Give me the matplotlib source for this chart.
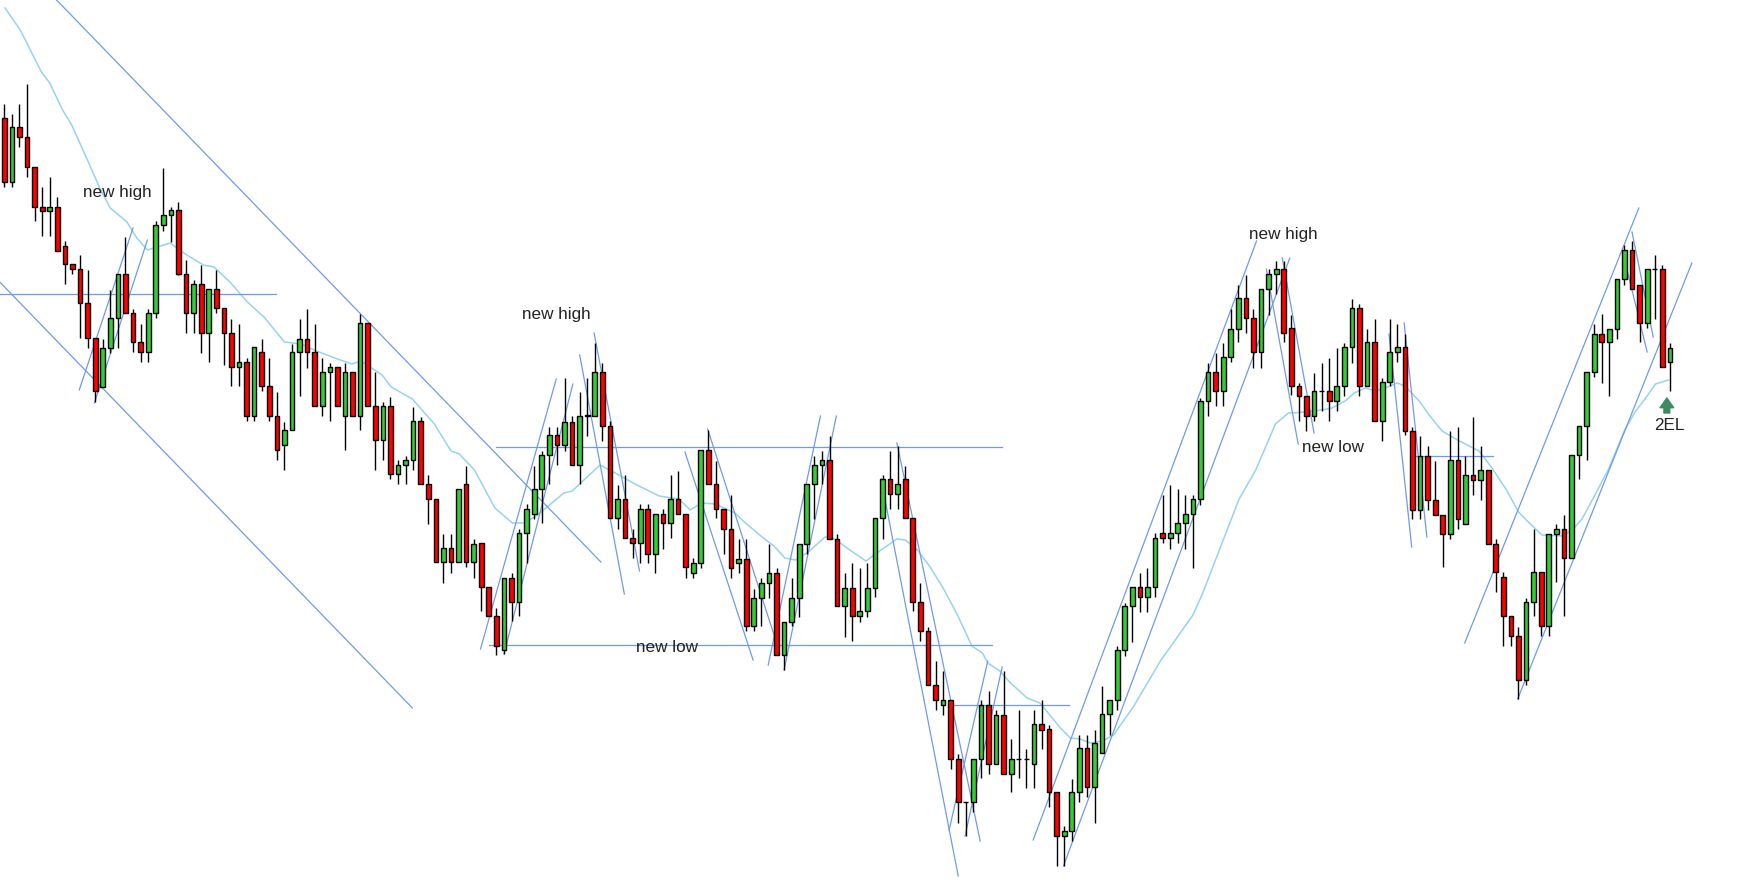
import numpy as np
import matplotlib.pyplot as plt

# OHLC, one row per bar (open, high, low, close)
ohlc = [
    (772, 786, 703, 708), (708, 776, 703, 763), (763, 786, 743, 753), (753, 806, 713, 723),
    (723, 723, 669, 683), (683, 703, 654, 679), (679, 713, 654, 683), (683, 693, 639, 639),
    (644, 649, 606, 626), (626, 626, 616, 621), (621, 635, 552, 587), (587, 620, 542, 552),
    (552, 552, 488, 499), (503, 551, 503, 542), (542, 600, 537, 572), (572, 616, 542, 616),
    (616, 653, 577, 577), (577, 581, 538, 548), (548, 566, 528, 538), (538, 581, 528, 577),
    (577, 669, 572, 665), (665, 722, 659, 675), (675, 683, 648, 680), (680, 688, 615, 616),
    (616, 630, 557, 577), (577, 610, 557, 606), (606, 625, 537, 557), (557, 601, 528, 601),
    (601, 620, 577, 582), (582, 582, 525, 557), (557, 571, 504, 523), (523, 566, 504, 528),
    (528, 532, 469, 474), (474, 543, 469, 543), (538, 551, 499, 504), (504, 532, 469, 474),
    (474, 498, 430, 440), (445, 468, 420, 460), (460, 546, 460, 538), (538, 571, 494, 551),
    (551, 581, 522, 538), (538, 566, 484, 484), (484, 532, 474, 518), (518, 527, 469, 523),
    (523, 523, 484, 484), (474, 527, 440, 518), (518, 518, 474, 474), (474, 576, 460, 567),
    (567, 567, 484, 484), (484, 518, 420, 450), (450, 488, 430, 484), (484, 493, 411, 416),
    (416, 430, 406, 425), (425, 434, 406, 430), (430, 483, 420, 469), (469, 473, 406, 406),
    (406, 415, 366, 391), (391, 391, 328, 328), (328, 356, 307, 342), (342, 356, 317, 328),
    (328, 401, 328, 401), (406, 424, 323, 328), (328, 351, 312, 346), (347, 347, 279, 303),
    (303, 303, 274, 274), (274, 282, 235, 244), (240, 312, 236, 312), (312, 317, 269, 288),
    (288, 361, 274, 357), (357, 386, 327, 381), (376, 424, 371, 401), (401, 439, 367, 435),
    (435, 463, 406, 455), (455, 463, 425, 445), (445, 512, 439, 468), (468, 474, 425, 425),
    (425, 498, 406, 474), (474, 512, 454, 475), (474, 547, 474, 518), (518, 527, 449, 464),
    (464, 469, 372, 372), (372, 405, 361, 391), (391, 415, 352, 352), (352, 361, 332, 347),
    (347, 386, 327, 381), (381, 386, 327, 336), (336, 376, 317, 376), (376, 381, 341, 367),
    (367, 415, 352, 391), (391, 419, 376, 376), (376, 376, 312, 323), (317, 332, 312, 327),
    (327, 440, 322, 440), (440, 460, 406, 406), (406, 429, 372, 381), (381, 381, 336, 361),
    (361, 395, 312, 322), (327, 351, 317, 331), (331, 351, 259, 264), (264, 301, 259, 292),
    (292, 312, 264, 307), (307, 346, 292, 317), (317, 322, 235, 235), (235, 268, 220, 268),
    (268, 312, 264, 292), (292, 346, 273, 346), (346, 406, 336, 406), (406, 434, 371, 425),
    (425, 439, 406, 430), (430, 454, 351, 351), (351, 356, 284, 284), (284, 317, 253, 302),
    (302, 327, 249, 274), (274, 322, 268, 279), (279, 327, 273, 302), (302, 372, 293, 372),
    (372, 415, 351, 411), (411, 439, 381, 396), (396, 444, 381, 406), (411, 424, 372, 372),
    (372, 372, 279, 288), (288, 307, 249, 259), (259, 263, 205, 205), (205, 229, 180, 190),
    (185, 219, 175, 190), (190, 190, 121, 131), (131, 136, 67, 88), (88, 88, 54, 88),
    (88, 131, 78, 131), (131, 190, 112, 185), (185, 199, 116, 126), (126, 180, 126, 175),
    (175, 219, 116, 116), (116, 151, 98, 131), (131, 180, 112, 131), (131, 141, 102, 131),
    (126, 180, 102, 166), (166, 190, 141, 160), (161, 165, 83, 98), (98, 98, 24, 54),
    (54, 64, 24, 59), (59, 111, 49, 98), (98, 155, 88, 142), (142, 155, 93, 103),
    (103, 160, 67, 147), (137, 204, 137, 176), (176, 190, 155, 190), (190, 244, 180, 240),
    (240, 287, 234, 284), (284, 303, 248, 303), (303, 317, 278, 293), (293, 322, 278, 303),
    (303, 357, 293, 352), (357, 395, 347, 352), (352, 405, 341, 357), (357, 401, 347, 367),
    (367, 395, 341, 376), (376, 395, 322, 391), (391, 492, 385, 489), (489, 527, 474, 518),
    (518, 537, 484, 499), (499, 547, 484, 533), (533, 581, 528, 561), (561, 605, 548, 592),
    (592, 615, 557, 572), (572, 581, 522, 538), (538, 601, 522, 601), (601, 621, 575, 616),
    (616, 629, 596, 621), (621, 629, 548, 557), (562, 575, 495, 504), (504, 507, 469, 494),
    (494, 494, 459, 474), (474, 517, 469, 499), (499, 527, 479, 499), (499, 532, 469, 489),
    (489, 542, 479, 504), (504, 547, 494, 543), (543, 591, 527, 582), (582, 586, 494, 504),
    (504, 561, 504, 548), (548, 571, 469, 469), (469, 512, 449, 508), (508, 571, 504, 538),
    (538, 566, 528, 543), (543, 556, 455, 459), (459, 463, 371, 380), (380, 454, 371, 434),
    (434, 444, 380, 390), (390, 429, 375, 375), (375, 375, 323, 356), (356, 459, 351, 430),
    (430, 463, 361, 371), (366, 434, 366, 415), (415, 473, 395, 410), (410, 444, 390, 420),
    (420, 420, 346, 346), (346, 351, 298, 318), (313, 318, 244, 274), (274, 274, 244, 254),
    (254, 263, 191, 210), (210, 292, 205, 288), (288, 361, 274, 318), (318, 318, 254, 264),
    (264, 356, 254, 356), (356, 366, 308, 361), (361, 375, 274, 332), (332, 435, 332, 435),
    (435, 464, 411, 464), (464, 518, 430, 518), (518, 566, 513, 556), (556, 576, 507, 548),
    (548, 561, 494, 561), (561, 611, 551, 611), (611, 645, 605, 640), (640, 649, 601, 601),
    (605, 605, 548, 567), (567, 621, 562, 621), (621, 635, 571, 621), (621, 625, 523, 523),
    (528, 547, 499, 542),
]

# moving average (bar index, value)
ma_x = [0.1, 2.1, 4.9, 6.0, 7.7, 8.9, 11.1, 12.6, 14.0, 16.2, 17.5, 18.9, 21.9, 24.1, 26.3,
        27.7, 29.8, 32.1, 34.3, 37.0, 39.2, 40.9, 44.0, 45.9, 47.1, 49.9, 51.1, 53.9, 56.8,
        59.0, 60.1, 62.1, 64.8, 67.1, 68.8, 70.6, 73.9, 75.0, 76.7, 78.7, 80.7, 83.3, 86.5,
        89.1, 90.6, 92.1, 93.9, 96.5, 97.9, 100.1, 101.8, 103.1, 104.5, 106.2, 108.4, 109.7,
        111.5, 113.8, 115.8, 117.9, 119.0, 120.6, 122.3, 124.0, 125.9, 127.8, 129.2, 129.9,
        131.5, 132.9, 135.1, 136.8, 138.1, 139.5, 140.8, 142.1, 143.4, 145.1, 146.5, 148.1,
        149.2, 152.7, 157.0, 158.3, 160.9, 163.1, 165.3, 167.9, 169.6, 170.1, 173.2, 175.4,
        177.1, 178.3, 179.8, 181.1, 182.4, 184.0, 185.0, 186.9, 188.2, 189.9, 192.2, 194.8,
        196.5, 198.5, 200.0, 201.3, 203.1, 205.8, 207.1, 208.4, 210.1, 211.9, 214.1, 215.4,
        216.7, 218.1, 219.8]
ma_y = [882, 860, 818, 807, 780, 765, 728, 702, 682, 668, 652, 640, 647, 635, 625,
        623, 608, 588, 573, 548, 546, 540, 531, 526, 529, 515, 503, 491, 466,
        439, 436, 420, 382, 367, 367, 376, 397, 399, 411, 425, 417, 406, 394,
        391, 380, 387, 386, 377, 367, 353, 343, 332, 330, 338, 353, 351,
        341, 329, 340, 351, 350, 340, 323, 302, 275, 244, 237, 227,
        219, 207, 192, 187, 175, 162, 152, 151, 147, 149, 155, 172,
        184, 229, 275, 297, 348, 391, 420, 466, 477, 477, 479, 482,
        489, 497, 502, 499, 502, 507, 504, 489, 475, 459, 449, 439,
        422, 399, 378, 368, 355, 354, 360, 371, 395, 421, 461, 478,
        491, 506, 510]

# hand-drawn trendlines: (x0, y0, x1, y1) in bar index / price
trendlines = [
    (6.9, 890, 78.8, 328), (-0.6, 608, 53.9, 182), (-0.6, 596, 35.9, 596),
    (9.9, 500, 17.0, 662), (11.9, 487, 18.9, 650),
    (62.9, 241, 72.9, 511), (66.0, 236, 75.1, 506),
    (64.9, 443, 131.8, 443), (64.0, 245, 130.5, 245),
    (76.0, 535, 81.9, 296), (77.9, 557, 83.9, 319),
    (89.9, 438, 98.9, 230), (92.9, 461, 102.1, 245),
    (100.9, 225, 107.8, 474), (103.0, 220, 109.9, 474),
    (117.9, 447, 128.9, 49), (115.8, 411, 126.0, 14),
    (124.8, 60, 129.9, 229), (126.9, 54, 131.8, 223),
    (124.8, 185, 140.6, 185),
    (135.9, 50, 165.4, 649), (139.9, 24, 169.8, 632),
    (166.7, 621, 170.9, 446), (168.8, 632, 173.0, 457),
    (182.9, 556, 185.9, 343), (184.9, 567, 187.9, 353),
    (185.9, 434, 196.6, 434),
    (192.9, 247, 215.9, 682), (199.9, 191, 222.9, 627),
    (215.0, 658, 217.8, 553), (213.7, 640, 217.0, 538),
]

labels = ["new high", "new high", "new low", "new high", "new low"]
label_x = [14.95, 72.96, 87.54, 168.92, 175.52]
label_y = [698, 576, 242, 655, 442]

signal_text = "2EL"
signal_x = 219.9
signal_y = 465

o = np.array([r[0] for r in ohlc], dtype=float)
h = np.array([r[1] for r in ohlc], dtype=float)
l = np.array([r[2] for r in ohlc], dtype=float)
c = np.array([r[3] for r in ohlc], dtype=float)
idx = np.arange(len(ohlc))

plt.rcParams['font.family'] = ['Liberation Sans', 'DejaVu Sans']

fig = plt.figure(figsize=(17.63, 8.90), dpi=100)
ax = fig.add_axes([0, 0, 1, 1])
ax.set_xlim(-0.57, 232.3)
ax.set_ylim(0, 890)
ax.axis('off')

# MA and trendlines under the candles
ax.plot(ma_x, ma_y, color='#95d3ee', lw=1.1, zorder=1)
for x0, y0, x1, y1 in trendlines:
    ax.plot([x0, x1], [y0, y1], color='#6f9ae9', lw=0.9, zorder=2)

up = c >= o
cols = np.where(up, '#33cc33', '#ff0000')
ax.vlines(idx, l, h, color='black', lw=1.0, zorder=3)
ax.bar(idx, np.abs(c - o), bottom=np.minimum(o, c), width=0.62,
       color=cols, edgecolor='black', linewidth=1.0, zorder=4)

for t, x, y in zip(labels, label_x, label_y):
    ax.text(x, y, t, ha='center', va='center', fontsize=12.3, color='#222222', zorder=5)

ax.annotate('', xy=(signal_x - 0.3, 492), xytext=(signal_x - 0.3, 477),
            arrowprops=dict(arrowstyle='simple,head_length=0.5,head_width=0.7,tail_width=0.3',
                            color='#3d8c5f', shrinkA=0, shrinkB=0, mutation_scale=14),
            zorder=5)
ax.text(signal_x, signal_y, signal_text, ha='center', va='center', fontsize=12.3,
        color='#222222', zorder=5)

fig.savefig('out.png', dpi=100)
